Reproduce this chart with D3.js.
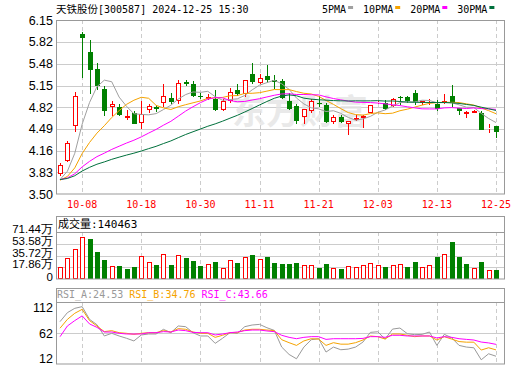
<!DOCTYPE html>
<html>
<head>
<meta charset="utf-8">
<script src="https://cdn.jsdelivr.net/npm/d3@7"></script>
<style>
  body { margin: 0; background: #fff; }
  svg { display: block; }
</style>
</head>
<body>
<div id="chart"></div>
<script>
// trading days shown (MM-DD)
const dates = ["09-26","09-27","09-30","10-08","10-09","10-10","10-11","10-14","10-15","10-16",
  "10-17","10-18","10-21","10-22","10-23","10-24","10-25","10-28","10-29","10-30",
  "10-31","11-01","11-04","11-05","11-06","11-07","11-08","11-11","11-12","11-13",
  "11-14","11-15","11-18","11-19","11-20","11-21","11-22","11-25","11-26","11-27",
  "11-28","11-29","12-02","12-03","12-04","12-05","12-06","12-09","12-10","12-11",
  "12-12","12-13","12-16","12-17","12-18","12-19","12-20","12-23","12-24","12-25"];

const opens = [3.80,4.01,4.53,5.93,5.67,5.40,5.10,4.82,4.82,4.65,
  4.73,4.58,4.78,4.82,4.88,4.96,4.91,5.20,5.17,5.00,
  4.95,4.94,4.78,4.91,5.09,5.03,5.32,5.19,5.30,5.23,
  5.22,4.91,4.84,4.68,4.76,4.89,4.86,4.59,4.67,4.56,
  4.63,4.66,4.74,4.89,4.88,4.84,4.97,4.97,5.04,4.89,
  4.92,4.87,4.88,4.99,4.81,4.72,4.74,4.74,4.49,4.53];
const highs = [3.97,4.31,5.05,5.97,5.85,5.50,5.14,4.91,4.87,4.78,
  4.76,4.91,4.87,4.85,5.17,5.04,5.24,5.23,5.22,5.04,
  5.03,5.09,4.94,5.11,5.18,5.24,5.49,5.33,5.46,5.31,
  5.25,5.04,4.87,4.79,4.94,4.99,4.89,4.70,4.70,4.61,
  4.71,4.71,4.86,4.92,4.93,4.96,4.99,5.00,5.09,4.92,
  4.95,4.93,5.03,5.16,4.81,4.77,4.78,4.76,4.57,4.53];
const lows = [3.77,3.98,4.44,5.26,5.02,5.08,4.69,4.69,4.69,4.62,
  4.56,4.49,4.74,4.75,4.82,4.87,4.87,5.15,4.97,4.94,
  4.93,4.77,4.76,4.88,4.99,4.98,5.17,5.18,5.19,5.10,
  4.95,4.78,4.57,4.57,4.74,4.82,4.58,4.57,4.58,4.40,
  4.61,4.51,4.73,4.87,4.78,4.83,4.86,4.89,4.86,4.85,
  4.85,4.77,4.87,4.82,4.70,4.65,4.73,4.47,4.43,4.36];
const closes = [3.94,4.27,4.99,5.88,5.39,5.14,4.77,4.87,4.71,4.69,
  4.57,4.72,4.84,4.80,5.00,4.90,5.19,5.18,5.00,4.97,
  4.98,4.78,4.91,5.05,5.03,5.23,5.21,5.27,5.24,5.21,
  4.96,4.79,4.61,4.79,4.92,4.87,4.59,4.67,4.59,4.61,
  4.66,4.69,4.86,4.90,4.79,4.95,4.96,4.91,4.90,4.92,
  4.93,4.79,4.92,4.89,4.76,4.75,4.77,4.47,4.50,4.45];
// closes before the visible window, needed for the moving averages
const earlierCloses = [3.78,3.74,3.72,3.70,3.73,3.71,3.69,3.72,3.74,3.70,
  3.73,3.75,3.76,3.72,3.70,3.71,3.73,3.74,3.72,3.71,
  3.70,3.68,3.69,3.71,3.72,3.64,3.62,3.66,3.74];

// volume in 万 shares
const volumes = [18.2,31.9,45.6,63.8,61.3,41.0,28.9,19.8,19.8,15.7,
  18.7,35.0,25.8,21.3,37.5,21.3,36.5,31.9,27.4,19.8,
  22.8,25.8,16.7,28.4,24.3,33.4,36.5,30.4,33.4,24.3,
  22.8,22.8,24.3,21.3,21.3,16.7,22.8,16.7,15.2,19.8,
  18.2,21.3,24.3,21.3,18.2,21.3,22.8,18.2,25.8,18.2,
  21.3,33.4,38.0,56.2,33.9,22.8,16.7,25.8,13.7,14.0463];

const rsiA = [80.3,94.8,101.8,104.5,84.0,75.4,57.2,61.5,57.2,53.5,
  49.2,58.8,60.4,60.4,67.9,62.5,73.3,72.2,62.5,57.2,
  57.2,45.3,53.5,62.5,61.5,72.2,74.9,75.9,70.5,66.2,
  39.3,27.4,20.4,39.3,51.2,52.8,31.3,39.3,35.0,36.0,
  39.3,47.4,63.0,64.0,52.2,68.3,70.0,60.9,59.3,59.8,
  63.6,42.0,59.8,54.4,42.0,39.3,38.2,18.8,28.5,24.53];
const rsiB = [69.7,84.0,93.8,100.2,82.0,73.3,64.2,65.8,62.5,61.5,
  59.8,61.5,62.5,62.5,65.8,63.6,69.0,68.0,63.6,61.5,
  61.5,55.0,58.3,62.5,62.5,66.8,68.0,68.0,66.8,65.8,
  51.2,46.4,42.0,49.2,52.8,52.2,42.0,46.4,44.0,44.0,
  46.4,50.7,57.2,56.1,52.2,60.4,60.4,58.3,56.1,57.2,
  57.2,50.7,56.1,52.2,48.2,47.2,47.2,34.5,38.2,34.76];
const rsiC = [56.0,73.3,82.0,89.6,76.6,71.1,63.6,63.6,61.5,60.4,
  60.4,60.4,62.5,62.5,64.2,63.6,66.8,65.8,63.0,62.5,
  62.5,58.8,60.4,62.5,63.6,65.8,66.8,66.8,65.3,64.2,
  58.3,55.0,52.8,55.0,56.1,56.1,51.7,52.8,52.8,52.8,
  52.8,53.3,56.1,56.1,55.0,58.3,58.3,57.2,57.2,57.2,
  57.2,54.0,56.1,55.0,52.8,51.7,50.7,47.4,46.0,43.66];

const priceTicks = [6.15,5.82,5.48,5.15,4.82,4.49,4.16,3.83,3.50];
const volTicks = [71.44,53.58,35.72,17.86,0];
const rsiTicks = [112,62,12];
const dateTicks = ["10-08","10-18","10-30","11-11","11-21","12-03","12-13","12-25"];
const maPeriods = [5,10,20,30];

const RED = "#ff0000", GREEN = "#008000", GRID = "#cccccc", FRAME = "#999999";
const maColors = ["#a0a0a0","#f5a300","#ff00ff","#00703c"];
const rsiColors = ["#999999","#f5a300","#ff00ff"];
const MONO = "'DejaVu Sans Mono', monospace";
const CJK = "'Noto Sans CJK SC', sans-serif";

const width = 520, height = 365;
const L = 56, R = 505;
const main = {top: 20, bottom: 194};
const vol = {head: 216, top: 232, bottom: 279};
const rsi = {head: 288, top: 302, bottom: 364};

const svg = d3.select("#chart").append("svg")
    .attr("width", width)
    .attr("height", height);

const x = d3.scalePoint().domain(dates).range([60, 496]);
const y = d3.scaleLinear().domain([3.50, 6.15]).range([main.bottom, main.top]);
const yVol = d3.scaleLinear().domain([0, 71.44]).range([vol.bottom, vol.top]);
const yRsi = d3.scaleLinear().domain([12, 112]).range([rsi.bottom, rsi.top]);

const cx = d => Math.round(x(d));
const px = v => Math.round(v) + 0.5;

// moving averages from closes
const allCloses = earlierCloses.concat(closes);
const off = earlierCloses.length;
const maSeries = maPeriods.map(n =>
    closes.map((c, i) => d3.mean(allCloses.slice(off + i - n + 1, off + i + 1))));

// ---------- grids & frames ----------
function vDashes(top, bottom) {
    svg.append("g").selectAll("line").data(dateTicks).join("line")
        .attr("x1", d => cx(d) + 0.5).attr("x2", d => cx(d) + 0.5)
        .attr("y1", top).attr("y2", bottom)
        .attr("stroke", GRID).attr("stroke-dasharray", "4,3");
}
function hGrid(vals, scale) {
    svg.append("g").selectAll("line").data(vals).join("line")
        .attr("x1", L).attr("x2", R)
        .attr("y1", d => px(scale(d))).attr("y2", d => px(scale(d)))
        .attr("stroke", GRID);
}

hGrid(priceTicks.slice(1, -1), y);
vDashes(main.top, main.bottom);
hGrid(volTicks.slice(1, -1), yVol);
vDashes(vol.top, vol.bottom);
hGrid([62], yRsi);
vDashes(rsi.top, rsi.bottom);

// watermark
svg.append("text")
    .attr("x", 232).attr("y", 124)
    .attr("font-family", CJK).attr("font-size", 34).attr("font-weight", "bold")
    .attr("fill", "#e4e4e4").attr("fill-opacity", 0.8)
    .text("东方财富");

// ---------- candles ----------
const idx = d3.range(dates.length);
const candles = svg.append("g");
idx.forEach(i => {
    const c = cx(dates[i]);
    const up = closes[i] >= opens[i];
    const top = Math.round(y(Math.max(opens[i], closes[i])));
    const bot = Math.round(y(Math.min(opens[i], closes[i])));
    const hi = Math.round(y(highs[i])), lo = Math.round(y(lows[i]));
    const col = up ? RED : GREEN;
    if (up) {
        candles.append("line").attr("x1", c + 0.5).attr("x2", c + 0.5)
            .attr("y1", hi).attr("y2", top).attr("stroke", col);
        candles.append("line").attr("x1", c + 0.5).attr("x2", c + 0.5)
            .attr("y1", bot).attr("y2", lo).attr("stroke", col);
        candles.append("rect").attr("x", c - 1.5).attr("y", top + 0.5)
            .attr("width", 4).attr("height", Math.max(bot - top - 1, 0))
            .attr("fill", "#fff").attr("stroke", col);
    } else {
        candles.append("line").attr("x1", c + 0.5).attr("x2", c + 0.5)
            .attr("y1", hi).attr("y2", lo).attr("stroke", col);
        candles.append("rect").attr("x", c - 2).attr("y", top)
            .attr("width", 5).attr("height", Math.max(bot - top, 1))
            .attr("fill", col);
    }
});

// MA lines
const maLine = d3.line().x((d, i) => x(dates[i])).y(d => y(d));
maSeries.forEach((s, k) => {
    svg.append("path").datum(s)
        .attr("d", maLine).attr("fill", "none")
        .attr("stroke", maColors[k]).attr("stroke-width", 1);
});

// ---------- volume ----------
const volG = svg.append("g");
idx.forEach(i => {
    const prev = i === 0 ? earlierCloses[earlierCloses.length - 1] : closes[i - 1];
    const up = closes[i] >= prev;
    const c = cx(dates[i]);
    const t = Math.round(yVol(volumes[i]));
    if (up) {
        volG.append("rect").attr("x", c - 1.5).attr("y", t + 0.5)
            .attr("width", 4).attr("height", vol.bottom - t - 1)
            .attr("fill", "#fff").attr("stroke", RED);
    } else {
        volG.append("rect").attr("x", c - 2).attr("y", t)
            .attr("width", 5).attr("height", vol.bottom - t)
            .attr("fill", GREEN);
    }
});

// ---------- RSI ----------
const rsiLine = d3.line().x((d, i) => x(dates[i])).y(d => yRsi(d));
[rsiA, rsiB, rsiC].forEach((s, k) => {
    svg.append("path").datum(s)
        .attr("d", rsiLine).attr("fill", "none")
        .attr("stroke", rsiColors[k]).attr("stroke-width", 1);
});

// ---------- frames ----------
[[main.top, main.bottom], [vol.head, vol.bottom], [rsi.head, rsi.bottom]].forEach(([t, b]) => {
    svg.append("rect").attr("x", L + 0.5).attr("y", t + 0.5)
        .attr("width", R - L - 1).attr("height", b - t - 0.5)
        .attr("fill", "none").attr("stroke", FRAME);
});
svg.append("line").attr("x1", L).attr("x2", R).attr("y1", vol.top + 0.5).attr("y2", vol.top + 0.5).attr("stroke", FRAME);
svg.append("line").attr("x1", L).attr("x2", R).attr("y1", rsi.top + 0.5).attr("y2", rsi.top + 0.5).attr("stroke", FRAME);

// ---------- axes ----------
function leftAxis(scale, vals, fmt, size, shift) {
    const g = svg.append("g").attr("transform", `translate(${L - 3},0)`)
        .call(d3.axisLeft(scale).tickValues(vals).tickSize(0).tickPadding(0).tickFormat(fmt));
    g.select(".domain").remove();
    g.selectAll("text")
        .attr("font-family", "'Liberation Sans', Arial, sans-serif")
        .attr("font-size", size).attr("fill", "#000")
        .attr("transform", d => `translate(0,${shift(d)})`);
}
leftAxis(y, priceTicks, d => d.toFixed(2), 12.5, () => 0);
leftAxis(yVol, volTicks, d => d === 0 ? "0" : d.toFixed(2) + "万", 11.5, d => d === 0 ? -2 : -3);
leftAxis(yRsi, rsiTicks, d => String(d), 12.5,
    d => d === 112 ? 5 : d === 12 ? -6 : 0);

svg.append("g").selectAll("text").data(dateTicks).join("text")
    .attr("x", d => x(d)).attr("y", 208)
    .attr("text-anchor", "middle")
    .attr("font-family", MONO).attr("font-size", 10).attr("fill", RED)
    .text(d => d);

// ---------- headers ----------
const title = svg.append("text").attr("x", 56).attr("y", 13).attr("fill", "#000");
title.append("tspan").attr("font-family", CJK).attr("font-size", 10.5).text("天铁股份");
title.append("tspan").attr("font-family", MONO).attr("font-size", 10).text("[300587] 2024-12-25 15:30");

let lx = 322;
maPeriods.forEach((n, k) => {
    const label = n + "PMA";
    svg.append("text").attr("x", lx).attr("y", 12.5)
        .attr("font-family", MONO).attr("font-size", 10).attr("fill", "#000")
        .text(label);
    const w = label.length * 6.02;
    svg.append("rect").attr("x", lx + w + 2).attr("y", 6)
        .attr("width", 5).attr("height", 3).attr("fill", maColors[k]);
    lx += w + 17;
});

const vt = svg.append("text").attr("x", 58).attr("y", 228).attr("fill", "#000");
vt.append("tspan").attr("font-family", CJK).attr("font-size", 11).text("成交量");
vt.append("tspan").attr("font-family", MONO).attr("font-size", 11)
    .text(":" + Math.round(volumes[volumes.length - 1] * 10000));

const rt = svg.append("text").attr("x", 57).attr("y", 298)
    .attr("font-family", MONO).attr("font-size", 10).attr("xml:space", "preserve");
[["RSI_A", rsiA], ["RSI_B", rsiB], ["RSI_C", rsiC]].forEach(([name, s], k) => {
    rt.append("tspan").attr("fill", rsiColors[k])
        .text((k ? " " : "") + name + ":" + s[s.length - 1].toFixed(2));
});
</script>
</body>
</html>
